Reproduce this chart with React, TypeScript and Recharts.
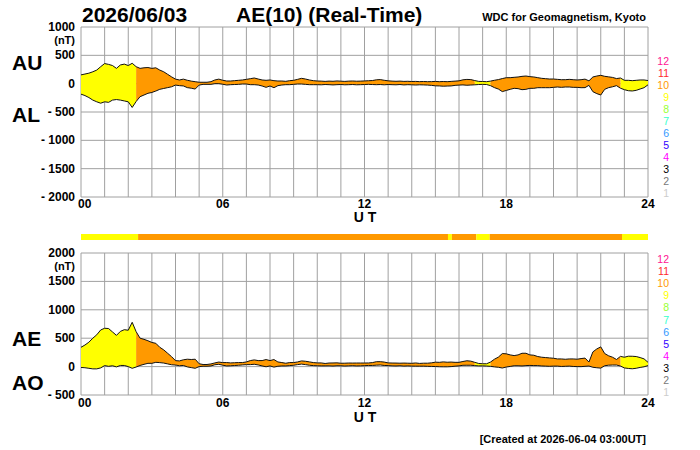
import React from 'react';
import {
  ComposedChart,
  BarChart,
  Area,
  Line,
  Bar,
  XAxis,
  YAxis,
  CartesianGrid,
} from 'recharts';

const DATE_LABEL = '2026/06/03';
const TITLE = 'AE(10) (Real-Time)';
const SOURCE = 'WDC for Geomagnetism, Kyoto';
const CREATED = '[Created at 2026-06-04 03:00UT]';

// 10-minute samples, 00:00 .. 24:00 UT (nT)
const STEP_MIN = 10;
const AU = [
  155, 170, 185, 210, 240, 300, 355, 340, 320, 270, 330, 345,
  320, 360, 300, 270, 280, 285, 270, 280, 240, 210, 165, 120,
  80, 65, 80, 60, 45, 35, 25, 25, 25, 35, 65, 80,
  60, 47, 47, 53, 59, 65, 76, 88, 100, 82, 65, 59,
  65, 53, 47, 47, 41, 53, 59, 76, 94, 82, 65, 53,
  47, 45, 40, 45, 42, 48, 44, 40, 45, 47, 43, 45,
  48, 52, 55, 68, 72, 60, 50, 45, 42, 45, 40, 42,
  38, 40, 36, 38, 35, 36, 40, 35, 38, 35, 40, 45,
  50, 68, 75, 72, 55, 40, 38, 35, 45, 60, 72, 90,
  105, 106, 112, 118, 129, 135, 124, 118, 106, 94, 88, 82,
  82, 76, 70, 70, 76, 70, 65, 70, 80, 50, 118, 135,
  147, 130, 120, 110, 90, 100, 59, 59, 53, 59, 65, 65,
  55,
];
const AL = [
  -185, -210, -245, -290, -320, -345, -320, -330, -290, -280, -290, -305,
  -320, -420, -315, -230, -200, -170, -155, -130, -100, -85, -70, -55,
  -25, -35, -40, -70, -80, -95, -25, -12, -12, -12, 0, 0,
  -10, -24, -18, -15, -12, -6, -6, -18, -18, -24, -41, -65,
  -41, -71, -35, -24, -18, -18, -12, -6, -6, -12, -18, -18,
  -18, -20, -15, -18, -22, -18, -15, -20, -18, -15, -20, -18,
  -15, -12, -15, -18, -15, -20, -15, -18, -20, -15, -22, -18,
  -20, -24, -20, -22, -25, -30, -38, -40, -45, -42, -40, -30,
  -25, -22, -28, -24, -20, -15, -12, -15, -35, -70, -95, -140,
  -120, -100, -82, -88, -106, -100, -82, -82, -71, -71, -71, -71,
  -65, -59, -65, -59, -59, -65, -65, -71, -70, -30, -141, -176,
  -200, -100, -70, -55, -35, -80, -106, -124, -129, -118, -94, -71,
  -20,
];

// number of stations contributing, from each start time (minutes UT)
const SEG_START = [0, 145, 932, 942, 1004, 1038, 1374];
const SEG_STATIONS = [9, 10, 9, 10, 9, 10, 9];
const DAY_MIN = 1440;

const STATION_LEVELS = [12, 11, 10, 9, 8, 7, 6, 5, 4, 3, 2, 1];
const STATION_COLORS: Record<number, string> = {
  12: '#ff1493',
  11: '#ff2a2a',
  10: '#ff9900',
  9: '#ffff00',
  8: '#99ff33',
  7: '#33ffcc',
  6: '#3399ff',
  5: '#3300ff',
  4: '#ff00ff',
  3: '#000000',
  2: '#777777',
  1: '#cccccc',
};
const FILL_LEVELS = [9, 10];

const HOUR_TICKS = Array.from({ length: 25 }, (_, h) => h * 60);
const AUAL_TICKS = [1000, 500, 0, -500, -1000, -1500, -2000];
const AEAO_TICKS = [2000, 1500, 1000, 500, 0, -500];

const FONT = '"Liberation Sans", Arial, Helvetica, sans-serif';
const GRID = '#a0a0a0';

function stationsAt(min: number) {
  let n = SEG_STATIONS[0];
  SEG_START.forEach((s, i) => {
    if (min >= s) n = SEG_STATIONS[i];
  });
  return n;
}

// AE = AU - AL, AO = (AU + AL) / 2
const rows = AU.map((au, i) => {
  const t = i * STEP_MIN;
  const al = AL[i];
  const ae = au - al;
  const ao = (au + al) / 2;
  const before = i > 0 ? stationsAt(t - STEP_MIN / 2) : null;
  const after = i < AU.length - 1 ? stationsAt(t + STEP_MIN / 2) : null;
  const row: Record<string, any> = { t, au, al, ae, ao };
  FILL_LEVELS.forEach((n) => {
    const on = before === n || after === n;
    row[`ul${n}`] = on ? [al, au] : null;
    row[`eo${n}`] = on ? [ao, ae] : null;
  });
  return row;
});

const barRow: Record<string, any> = { name: 'n' };
SEG_START.forEach((s, i) => {
  const end = i < SEG_START.length - 1 ? SEG_START[i + 1] : DAY_MIN;
  barRow[`s${i}`] = end - s;
});

function makeYTick(top: number) {
  return (p: any) => {
    const v = p.payload.value;
    const label = v < 0 ? `- ${-v}` : `${v}`;
    return (
      <g>
        <text
          x={75}
          y={p.y + 4}
          textAnchor="end"
          fontFamily={FONT}
          fontSize={12}
          fontWeight="bold"
          fill="#000"
        >
          {label}
        </text>
        {v === top && (
          <text
            x={75}
            y={p.y + 17}
            textAnchor="end"
            fontFamily={FONT}
            fontSize={11}
            fontWeight="bold"
            fill="#000"
          >
            (nT)
          </text>
        )}
      </g>
    );
  };
}

function makeXTick(baseline: number) {
  return (p: any) => {
    const v = p.payload.value;
    if (v % 360 !== 0) return <g />;
    const first = v === 0;
    return (
      <text
        x={first ? p.x - 3 : p.x}
        y={baseline}
        textAnchor={first ? 'start' : 'middle'}
        fontFamily={FONT}
        fontSize={12}
        fontWeight="bold"
        fill="#000"
      >
        {String(v / 60).padStart(2, '0')}
      </text>
    );
  };
}

function Panel({
  top,
  marginTop,
  marginBottom,
  domain,
  ticks,
  hiKey,
  loKey,
  fillPrefix,
  tickBaseline,
}: any) {
  return (
    <div style={{ position: 'absolute', left: 0, top }}>
      <ComposedChart
        width={700}
        height={225}
        data={rows}
        margin={{ top: marginTop, right: 52, bottom: marginBottom, left: 0 }}
      >
        <CartesianGrid stroke={GRID} strokeWidth={1} />
        <XAxis
          dataKey="t"
          type="number"
          domain={[0, DAY_MIN]}
          ticks={HOUR_TICKS}
          interval={0}
          height={20}
          axisLine={false}
          tickLine={false}
          tick={makeXTick(tickBaseline)}
        />
        <YAxis
          type="number"
          domain={domain}
          ticks={ticks}
          interval={0}
          width={81}
          axisLine={false}
          tickLine={false}
          allowDataOverflow
          tick={makeYTick(ticks[0])}
        />
        {FILL_LEVELS.map((n) => (
          <Area
            key={n}
            dataKey={`${fillPrefix}${n}`}
            type="linear"
            stroke="none"
            fill={STATION_COLORS[n]}
            fillOpacity={1}
            dot={false}
            activeDot={false}
            isAnimationActive={false}
          />
        ))}
        <Line
          dataKey={hiKey}
          type="linear"
          stroke="#111"
          strokeWidth={1}
          dot={false}
          activeDot={false}
          isAnimationActive={false}
        />
        <Line
          dataKey={loKey}
          type="linear"
          stroke="#111"
          strokeWidth={1}
          dot={false}
          activeDot={false}
          isAnimationActive={false}
        />
      </ComposedChart>
    </div>
  );
}

function StationBar() {
  return (
    <div style={{ position: 'absolute', left: 0, top: 232 }}>
      <BarChart
        width={700}
        height={10}
        layout="vertical"
        data={[barRow]}
        margin={{ top: 2, right: 52, bottom: 2, left: 81 }}
        barCategoryGap={0}
      >
        <XAxis type="number" domain={[0, DAY_MIN]} hide />
        <YAxis type="category" dataKey="name" hide />
        {SEG_START.map((s, i) => (
          <Bar
            key={s}
            dataKey={`s${i}`}
            stackId="n"
            fill={STATION_COLORS[SEG_STATIONS[i]]}
            isAnimationActive={false}
          />
        ))}
      </BarChart>
    </div>
  );
}

function Overlay() {
  const big = { fontFamily: FONT, fontWeight: 'bold' as const, fill: '#000' };
  return (
    <svg
      width={700}
      height={450}
      style={{ position: 'absolute', left: 0, top: 0, pointerEvents: 'none' }}
    >
      <text x={82} y={22} fontSize={21} {...big}>
        {DATE_LABEL}
      </text>
      <text x={236} y={22} fontSize={21} {...big}>
        {TITLE}
      </text>
      <text x={646} y={21} fontSize={11} textAnchor="end" {...big}>
        {SOURCE}
      </text>
      <text x={12} y={70} fontSize={21} {...big}>AU</text>
      <text x={12} y={122} fontSize={21} {...big}>AL</text>
      <text x={12} y={346} fontSize={21} {...big}>AE</text>
      <text x={12} y={390} fontSize={21} {...big}>AO</text>
      <text x={365} y={222} fontSize={14} textAnchor="middle" {...big}>U T</text>
      <text x={365} y={422} fontSize={14} textAnchor="middle" {...big}>U T</text>
      {STATION_LEVELS.map((n, i) => (
        <React.Fragment key={n}>
          <text x={669} y={65 + i * 12} fontSize={10.5} textAnchor="end" fontFamily={FONT} fill={STATION_COLORS[n]}>
            {n}
          </text>
          <text x={669} y={263 + i * 12.1} fontSize={10.5} textAnchor="end" fontFamily={FONT} fill={STATION_COLORS[n]}>
            {n}
          </text>
        </React.Fragment>
      ))}
      <text x={646} y={443} fontSize={11} textAnchor="end" {...big}>
        {CREATED}
      </text>
    </svg>
  );
}

export default function App() {
  return (
    <div
      style={{
        position: 'absolute',
        left: 0,
        top: 0,
        width: 700,
        height: 450,
        background: '#fff',
        overflow: 'hidden',
      }}
    >
      <Panel
        top={0}
        marginTop={27}
        marginBottom={8}
        domain={[-2000, 1000]}
        ticks={AUAL_TICKS}
        hiKey="au"
        loKey="al"
        fillPrefix="ul"
        tickBaseline={207.5}
      />
      <StationBar />
      <Panel
        top={225}
        marginTop={28}
        marginBottom={35}
        domain={[-500, 2000]}
        ticks={AEAO_TICKS}
        hiKey="ae"
        loKey="ao"
        fillPrefix="eo"
        tickBaseline={182}
      />
      <Overlay />
    </div>
  );
}
